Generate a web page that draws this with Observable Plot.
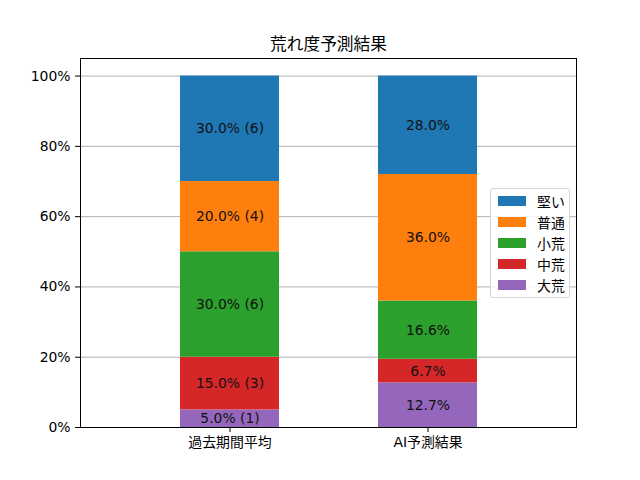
<!DOCTYPE html>
<html>
<head>
<meta charset="utf-8">
<script src="https://cdn.jsdelivr.net/npm/d3@7"></script>
<script src="https://cdn.jsdelivr.net/npm/@observablehq/plot@0.6"></script>
<style>
  html, body { margin: 0; padding: 0; background: #fff; }
  #wrap { position: relative; width: 640px; height: 480px; font-family: "DejaVu Sans", "Noto Sans CJK JP", sans-serif; }
  #legend { position: absolute; left: 490px; top: 188px; width: 80px; height: 110px; box-sizing: border-box;
    border: 1px solid #d5d5d5; border-radius: 3px; background: rgba(255,255,255,0.85); padding-top: 1px; }
  .row { display: flex; align-items: center; height: 21px; font-size: 13.9px; color: #000; }
  .sw { width: 28px; height: 10px; margin-left: 7px; margin-right: 11px; }
</style>
</head>
<body>
<div id="wrap"><div id="legend"></div></div>
<script>
const groups = ["過去期間平均", "AI予測結果"];
const categories = ["大荒", "中荒", "小荒", "普通", "堅い"];
const pastValues = [5.0, 15.0, 30.0, 20.0, 30.0];
const pastCounts = [1, 3, 6, 4, 6];
const aiValues = [12.7, 6.7, 16.6, 36.0, 28.0];
const colors = ["#9467bd", "#d62728", "#2ca02c", "#ff7f0e", "#1f77b4"];
const yTicks = [0, 20, 40, 60, 80, 100];
const title = "荒れ度予測結果";

const rows = [];
categories.forEach((c, i) => rows.push({group: groups[0], cat: c, value: pastValues[i], label: `${pastValues[i].toFixed(1)}% (${pastCounts[i]})`}));
categories.forEach((c, i) => rows.push({group: groups[1], cat: c, value: aiValues[i], label: `${aiValues[i].toFixed(1)}%`}));

const font = '"DejaVu Sans", "Noto Sans CJK JP", sans-serif';
const chart = Plot.plot({
  width: 640, height: 480,
  marginLeft: 80, marginRight: 64, marginTop: 58, marginBottom: 53,
  style: {fontFamily: font, fontSize: "13.9px", color: "#000", background: "#fff"},
  x: {domain: groups, padding: 0.5, label: null},
  y: {domain: [0, 105], label: null},
  color: {domain: categories, range: colors},
  marks: [
    Plot.gridY(yTicks, {stroke: "#b0b0b0", strokeOpacity: 1, strokeWidth: 1}),
    Plot.barY(rows, Plot.stackY({x: "group", y: "value", fill: "cat", z: "cat", inset: 0})),
    Plot.text(rows, Plot.stackY({x: "group", y: "value", z: "cat", text: "label", fill: "#111", fontSize: 13.9})),
    Plot.frame({stroke: "#000", strokeWidth: 1}),
    Plot.text([title], {frameAnchor: "top", lineAnchor: "middle", dy: -14, fontSize: 16.7, fill: "#000"}),
    Plot.axisY({ticks: yTicks, tickFormat: d => d + "%", tickSize: 5, tickPadding: 5, label: null, fontSize: 13.9}),
    Plot.axisX({tickSize: 5, tickPadding: 5, label: null, fontSize: 13.9})
  ]
});
const wrap = document.getElementById("wrap");
wrap.insertBefore(chart, wrap.firstChild);

const legend = document.getElementById("legend");
categories.slice().reverse().forEach(c => {
  const row = document.createElement("div");
  row.className = "row";
  const sw = document.createElement("div");
  sw.className = "sw";
  sw.style.background = colors[categories.indexOf(c)];
  const t = document.createElement("span");
  t.textContent = c;
  row.appendChild(sw); row.appendChild(t);
  legend.appendChild(row);
});
</script>
</body>
</html>
